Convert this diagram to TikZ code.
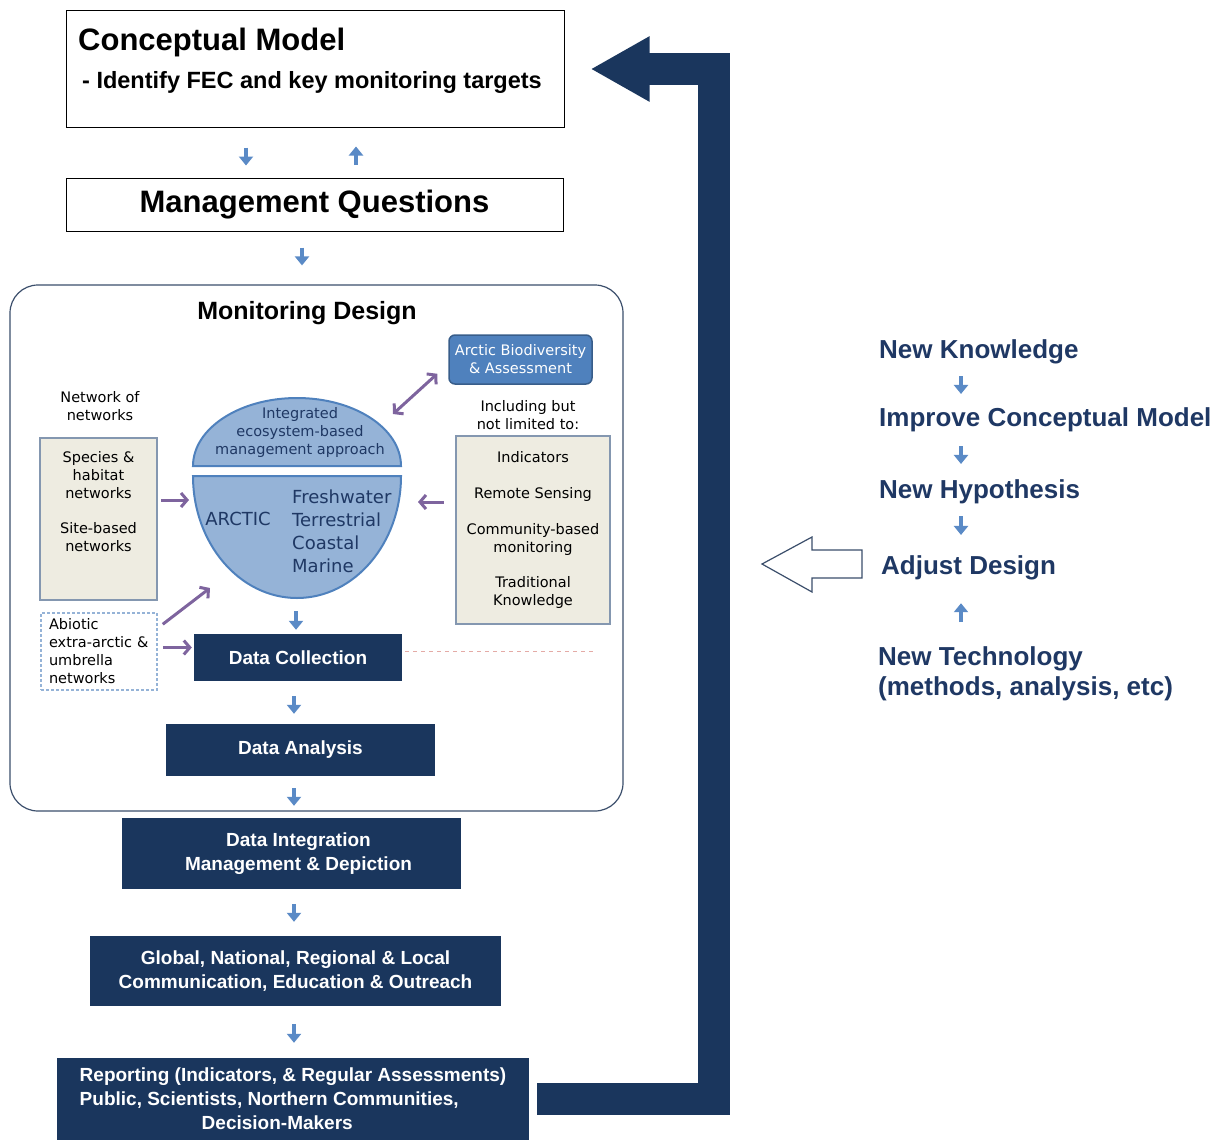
\documentclass[tikz,border=0pt]{standalone}
\usepackage{fontspec}
\setmainfont{Liberation Sans}
\newfontfamily\tahoma{DejaVu Sans}
\usetikzlibrary{arrows.meta,positioning}

\definecolor{navy}{HTML}{1A365D}
\definecolor{arrowblue}{HTML}{5A8AC6}
\definecolor{netpurple}{HTML}{7E649E}
\definecolor{domefill}{HTML}{95B3D7}
\definecolor{domeline}{HTML}{4F81BD}
\definecolor{abdline}{HTML}{385D8A}
\definecolor{beige}{HTML}{EEECE1}
\definecolor{beigeline}{HTML}{8497B0}
\definecolor{textnavy}{HTML}{1F3864}
\definecolor{frameline}{HTML}{3B4E6B}
\definecolor{pinkdash}{HTML}{E4ABA6}

\begin{document}
\begin{tikzpicture}[x=1pt, y=1pt,
		plainbox/.style={draw=black, line width=1pt, inner sep=0pt},
		darkbox/.style={fill=navy, text=white, font=\fontsize{19}{24}\selectfont\bfseries, align=center, inner sep=0pt},
		netbox/.style={draw=beigeline, fill=beige, line width=2.2pt, inner sep=0pt},
		smalltext/.style={font=\tahoma\fontsize{14.5}{18}\selectfont, align=center, inner sep=0pt},
		domestyle/.style={draw=domeline, fill=domefill, line width=2pt},
		rightlabel/.style={text=textnavy, font=\fontsize{26}{30}\selectfont\bfseries, inner sep=0pt},
		smallarrow/.style={draw=arrowblue, line width=4pt, -{Triangle[length=9pt,width=14pt]}},
		violetarrow/.style={draw=netpurple, line width=3pt, -{Straight Barb[length=6pt,width=14pt]}},
		violetboth/.style={draw=netpurple, line width=3pt, {Straight Barb[length=6pt,width=14pt]}-{Straight Barb[length=6pt,width=14pt]}},
		feedback/.style={draw=navy, line width=32pt, line join=miter, -{Triangle[length=59pt,width=61pt]}}
	]
		\useasboundingbox (0,0) rectangle (1222,-1140);

		% 上方两个框
		\node[plainbox, minimum width=498pt, minimum height=116pt] (cm) at (315,-69) {};
		\node[anchor=base west, font=\fontsize{31}{36}\selectfont\bfseries, inner sep=0pt] (cmtitle) at (78,-51) {Conceptual Model};
		\node[anchor=base west, font=\fontsize{23.5}{28}\selectfont\bfseries, inner sep=0pt] (cmsub) at (82,-88) {- Identify FEC and key monitoring targets};
		\node[plainbox, minimum width=497pt, minimum height=53pt, font=\fontsize{31}{36}\selectfont\bfseries] (mq) at (314.5,-204.5) {Management Questions};
		\draw[smallarrow, shorten <=20pt, shorten >=12pt] (cm.south -| 246,0) -- (mq.north -| 246,0);
		\draw[smallarrow, shorten <=13pt, shorten >=19pt] (mq.north -| 356,0) -- (cm.south -| 356,0);

		% 监测设计大框
		\node[draw=frameline, line width=1.2pt, rounded corners=28pt, minimum width=613pt, minimum height=526pt] (design) at (316.5,-548) {};
		\draw[smallarrow, shorten <=16pt, shorten >=19pt] (mq.south -| 302,0) -- (design.north -| 302,0);
		\node[font=\fontsize{25}{30}\selectfont\bfseries, inner sep=0pt] (mdtitle) at (307,-313) {Monitoring Design};

		\node[draw=abdline, fill=domeline, line width=1.5pt, rounded corners=6pt, minimum width=143pt, minimum height=49pt, smalltext, text=white] (abd) at (520.5,-359.5) {Arctic Biodiversity\\\& Assessment};

		% 中间的圆
		\filldraw[domestyle] (193,-466) arc[start angle=180, end angle=0, x radius=104, y radius=68] -- cycle;
		\filldraw[domestyle] (193,-476) arc[start angle=180, end angle=360, x radius=104, y radius=122] -- cycle;
		\node[smalltext, text=textnavy] (iem) at (300,-432) {Integrated\\ecosystem-based\\management approach};
		\node[font=\tahoma\fontsize{18}{23}\selectfont, text=textnavy, inner sep=0pt] (arctic) at (238,-519) {ARCTIC};
		\node[font=\tahoma\fontsize{18}{23}\selectfont, text=textnavy, align=left, anchor=west, inner sep=0pt] (realms) at (292,-531) {Freshwater\\Terrestrial\\Coastal\\Marine};
		\coordinate (domeNE) at (393,-414);
		\coordinate (arcticL) at (189,-500);
		\coordinate (arcticR) at (418,-502);
		\coordinate (arcticSW) at (210,-588);
		\coordinate (arcticbot) at (296,-598);

		% 左右两侧的网络
		\node[smalltext] (nofn) at (100,-406.5) {Network of\\networks};
		\node[netbox, minimum width=117pt, minimum height=162pt] (spec) at (98.5,-519) {};
		\node[smalltext, below=14pt of spec.north] (spectext) {Species \&\\habitat\\networks\\[17pt]Site-based\\networks};
		\node[draw=domefill, dashed, dash pattern=on 3pt off 2pt, line width=1.5pt, minimum width=116pt, minimum height=77pt, smalltext, align=left, text width=100pt] (abiotic) at (99,-651.5) {Abiotic\\extra-arctic \&\\umbrella\\networks};

		\node[smalltext] (incl) at (528,-415) {Including but\\not limited to:};
		\node[netbox, smalltext, minimum width=154pt, minimum height=188pt] (ind) at (533,-530) {Indicators\\[18pt]Remote Sensing\\[18pt]Community-based\\monitoring\\[17pt]Traditional\\Knowledge};

		\draw[violetboth] (domeNE) -- ([xshift=-11pt,yshift=11pt]abd.south west);
		\draw[violetarrow, shorten <=3pt] (spec.east |- arcticL) -- (arcticL);
		\draw[violetarrow, shorten <=11pt] (ind.west |- arcticR) -- (arcticR);
		\draw[violetarrow] ([xshift=5pt,yshift=-12pt]abiotic.north east) -- (arcticSW);

		% 数据流程
		\node[darkbox, minimum width=208pt, minimum height=47pt] (dc) at (298,-657.5) {Data Collection};
		\node[darkbox, minimum width=269pt, minimum height=52pt] (da) at (300.5,-750) {Data Analysis};
		\node[darkbox, minimum width=339pt, minimum height=71pt] (di) at (291.5,-853.5) {\hspace*{14pt}Data Integration\\\hspace*{14pt}Management \& Depiction};
		\node[darkbox, minimum width=411pt, minimum height=70pt] (glob) at (295.5,-971) {Global, National, Regional \& Local\\Communication, Education \& Outreach};
		\node[darkbox, align=left, minimum width=472pt, minimum height=82pt] (report) at (293,-1099) {Reporting (Indicators, \& Regular Assessments)\\Public, Scientists, Northern Communities,\\\hspace*{122pt}Decision-Makers};

		\draw[violetarrow, shorten <=5pt, shorten >=2pt] ([yshift=4pt]abiotic.east) -- ([yshift=4pt]abiotic.east -| dc.west);
		\coordinate (dashend) at (595,-651.5);
		\draw[pinkdash, line width=1.3pt, dash pattern=on 4pt off 4pt] ([xshift=3pt,yshift=6pt]dc.east) -- (dashend);

		\coordinate (col) at (294,0);
		\draw[smallarrow, shorten <=13pt, shorten >=4pt] (arcticbot) -- (dc.north -| arcticbot);
		\draw[smallarrow, shorten <=15pt, shorten >=10pt] (dc.south -| col) -- (da.north -| col);
		\draw[smallarrow, shorten <=12pt, shorten >=12pt] (da.south -| col) -- (di.north -| col);
		\draw[smallarrow, shorten <=15pt, shorten >=14pt] (di.south -| col) -- (glob.north -| col);
		\draw[smallarrow, shorten <=18pt, shorten >=15pt] (glob.south -| col) -- (report.north -| col);

		% 反馈大箭头
		\draw[feedback] ([xshift=8pt]report.east) -| ([xshift=149.5pt]cm.east) -- ([xshift=26pt]cm.east);

		% 右侧文字
		\node[rightlabel, anchor=base west] (nk) at (879,-358) {New Knowledge};
		\node[rightlabel, anchor=base west] (icm) at (879,-426) {Improve Conceptual Model};
		\node[rightlabel, anchor=base west] (nh) at (879,-498) {New Hypothesis};
		\node[rightlabel, anchor=base west] (adj) at (881,-574) {Adjust Design};
		\node[rightlabel, anchor=north west, align=left] (nt) at (878,-646) {New Technology\\(methods, analysis, etc)};
		\draw[smallarrow, shorten <=12.5pt, shorten >=13pt] (nk.south -| 961,0) -- (icm.north -| 961,0);
		\draw[smallarrow, shorten <=14.5pt, shorten >=15pt] (icm.south -| 961,0) -- (nh.north -| 961,0);
		\draw[smallarrow, shorten <=12.5pt, shorten >=20pt] (nh.south -| 961,0) -- (adj.north -| 961,0);
		\draw[smallarrow, shorten <=24pt, shorten >=23.5pt] (nt.north -| 961,0) -- (adj.south -| 961,0);

		% 空心箭头
		\draw[draw=frameline, line width=1.2pt, fill=white] (762,-564) -- (812,-537) -- (812,-550) -- (862,-550) -- (862,-578) -- (812,-578) -- (812,-592) -- cycle;
	\end{tikzpicture}
\end{document}
